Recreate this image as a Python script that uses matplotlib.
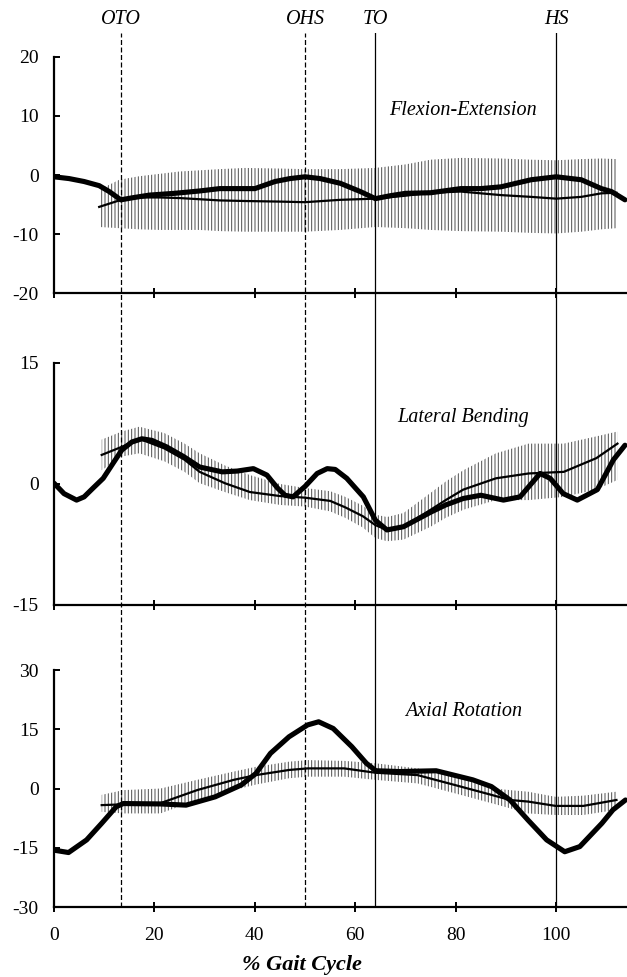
import matplotlib
matplotlib.use("Agg")
import matplotlib.pyplot as plt

plt.rcParams['font.family'] = ['Liberation Serif', 'DejaVu Serif']
plt.rcParams['axes.unicode_minus'] = False
plt.rcParams['hatch.linewidth'] = 0.7

# gait events (% gait cycle)
event_names = ['OTO', 'OHS', 'TO', 'HS']
event_x = [13.3, 50, 64, 100]
event_style = ['--', '--', '-', '-']

# Flexion-Extension: patient curve
fe_x = [0, 3, 6, 9, 11, 13.3, 16, 19, 24, 29, 33, 37, 40, 44, 47, 50, 53, 57, 61, 64,
        67, 70, 75, 81, 85, 89, 95, 100, 105, 109, 111, 113.7]
fe_y = [-0.3, -0.6, -1.1, -1.8, -2.8, -4.2, -3.8, -3.4, -3.1, -2.7, -2.3, -2.3, -2.3, -1.1,
        -0.6, -0.3, -0.6, -1.4, -2.8, -4.0, -3.5, -3.1, -3.0, -2.3, -2.3, -2.0, -0.8, -0.3,
        -0.8, -2.3, -2.8, -4.2]
# Flexion-Extension: normal mean and band
fe_nx = [9, 13, 17, 21, 25, 29, 33, 38, 45, 50, 57, 64, 70, 75, 81, 89, 95, 100, 105, 109, 112]
fe_mean = [-5.4, -4.3, -3.8, -3.8, -3.9, -4.1, -4.3, -4.4, -4.5, -4.6, -4.2, -4.0, -3.5,
           -3.0, -2.8, -3.4, -3.7, -4.0, -3.7, -3.1, -3.0]
fe_lo = [-8.8, -9.0, -9.2, -9.3, -9.3, -9.3, -9.5, -9.6, -9.6, -9.6, -9.3, -8.8, -9.0,
         -9.3, -9.5, -9.6, -9.8, -9.9, -9.6, -9.2, -9.0]
fe_hi = [-2.5, -0.8, -0.2, 0.2, 0.6, 0.8, 1.0, 1.2, 1.1, 1.0, 1.0, 1.2, 1.8, 2.6, 2.9,
         2.8, 2.6, 2.5, 2.7, 2.8, 2.7]

# Lateral Bending: patient curve
lb_x = [0, 2, 4.5, 6, 7.8, 9.8, 11.8, 13.5, 15.5, 17.5, 19.5, 22.4, 25.8, 29, 33.5, 36.5,
        39.7, 42.4, 44.5, 46, 47.6, 50, 52.4, 54.4, 56, 58.3, 61.6, 64, 66.3, 69.6, 75,
        78, 81.5, 85, 89.5, 92.8, 95, 96.8, 98.8, 101.4, 104.2, 108.2, 111.4, 113.7]
lb_y = [0.1, -1.2, -2.0, -1.6, -0.5, 0.7, 2.6, 4.2, 5.2, 5.6, 5.4, 4.6, 3.4, 2.1, 1.5, 1.6,
        1.9, 1.1, -0.5, -1.4, -1.6, -0.3, 1.3, 1.9, 1.8, 0.7, -1.6, -4.5, -5.7, -5.3, -3.5,
        -2.6, -1.8, -1.4, -2.0, -1.6, 0.0, 1.3, 0.7, -1.2, -2.0, -0.7, 3.0, 4.8]
# Lateral Bending: normal mean and band
lb_nx = [9.5, 13.5, 17, 22, 26, 29, 34, 39, 45, 50, 55, 58, 61.5, 64, 66.3, 69.6, 75, 78,
         81.5, 88, 94.5, 101.5, 108, 112.2]
lb_mean = [3.6, 4.6, 5.6, 4.4, 3.0, 1.5, 0.1, -1.0, -1.5, -1.7, -2.1, -2.9, -4.0, -5.1,
           -5.7, -5.3, -3.2, -2.0, -0.7, 0.7, 1.3, 1.5, 3.2, 5.0]
lb_lo = [1.7, 3.4, 3.8, 2.8, 1.5, 0.1, -1.0, -2.0, -2.6, -2.8, -3.4, -4.2, -5.4, -6.7,
         -7.1, -6.9, -5.3, -4.2, -3.2, -2.0, -2.0, -1.6, -0.7, 0.5]
lb_hi = [5.5, 6.5, 7.1, 6.3, 5.0, 3.8, 2.3, 1.1, 0.0, -0.5, -0.9, -1.6, -2.7, -3.8, -4.1,
         -3.6, -1.1, 0.3, 1.7, 3.8, 5.0, 5.0, 5.9, 6.5]

# Axial Rotation: patient curve
ar_x = [0, 2.9, 6.5, 9.5, 12.4, 13.8, 21.2, 26.3, 32.1, 37.3, 40.2, 43.1, 46.8, 50.5, 52.7,
        55.6, 59.3, 62.2, 64.1, 68.8, 76.1, 83.4, 87.1, 90.8, 94.4, 98.1, 101.7, 104.7,
        109.1, 111.3, 113.8]
ar_y = [-15.6, -16.2, -13.0, -8.8, -4.6, -3.8, -3.9, -4.2, -2.1, 0.9, 3.8, 8.9, 13.1, 16.1,
        16.9, 15.2, 10.6, 6.4, 4.5, 4.3, 4.5, 2.2, 0.5, -2.9, -8.0, -13.0, -16.0, -14.7,
        -8.8, -5.4, -2.9]
# Axial Rotation: normal mean and band
ar_nx = [9.5, 13.8, 21.2, 28.5, 35.8, 40.2, 46.8, 50.5, 57.8, 64, 72.4, 79.8, 87.1, 90.8,
         94.4, 99.9, 105.4, 112]
ar_mean = [-4.2, -4.0, -3.7, -0.4, 2.2, 3.4, 4.7, 5.1, 5.1, 4.0, 3.4, 0.9, -1.6, -2.9,
           -3.3, -4.4, -4.4, -2.9]
ar_lo = [-5.9, -6.3, -6.3, -2.9, -0.4, 1.0, 2.6, 3.0, 3.0, 2.2, 1.3, -1.2, -3.7, -5.0,
         -6.3, -6.7, -6.7, -5.4]
ar_hi = [-1.6, -0.4, 0.0, 2.2, 4.3, 5.5, 6.8, 7.2, 7.0, 6.4, 5.1, 3.4, 0.1, -0.4, -0.8,
         -2.1, -1.8, -0.8]

panels = [
    ('Flexion-Extension', fe_x, fe_y, fe_nx, fe_mean, fe_lo, fe_hi, [-20, -10, 0, 10, 20], 11),
    ('Lateral Bending', lb_x, lb_y, lb_nx, lb_mean, lb_lo, lb_hi, [-15, 0, 15], 8.3),
    ('Axial Rotation', ar_x, ar_y, ar_nx, ar_mean, ar_lo, ar_hi, [-30, -15, 0, 15, 30], 19.4),
]
# axes boxes in figure fractions: bottom, height
boxes = [(0.700, 0.2417), (0.3808, 0.2477), (0.0716, 0.2426)]
left = 0.0861
width = 1.0 - left
xmax = 114.1

fig = plt.figure(figsize=(6.27, 9.77), dpi=100)

for i, (name, px, py, nx, nm, lo, hi, yt, ty) in enumerate(panels):
    b, h = boxes[i]
    ax = fig.add_axes([left, b, width, h])
    ax.fill_between(nx, lo, hi, facecolor='none', edgecolor='0.3', linewidth=0,
                    hatch='|||||', zorder=1)
    ax.plot(nx, nm, color='black', linewidth=1.6, zorder=2)
    ax.plot(px, py, color='black', linewidth=3.7, solid_capstyle='round',
            solid_joinstyle='round', zorder=3)
    ax.set_xlim(0, xmax)
    ax.set_ylim(yt[0], yt[-1])
    ax.set_yticks(yt)
    ax.set_yticklabels([str(v) for v in yt])
    ax.set_xticks([0, 20, 40, 60, 80, 100])
    ax.spines['top'].set_visible(False)
    ax.spines['right'].set_visible(False)
    ax.spines['left'].set_linewidth(1.6)
    ax.spines['bottom'].set_linewidth(1.6)
    ax.tick_params(axis='y', direction='in', length=4.5, width=1.4, labelsize=14, pad=11)
    ax.tick_params(axis='x', direction='inout', length=7, width=1.4, labelsize=14, pad=11)
    if i < 2:
        ax.set_xticklabels([])
    ax.text(81.5, ty, name, fontsize=14.5, style='italic', ha='center', va='center')

# event lines spanning all panels
ov = fig.add_axes([left, 0.0716, width, 0.9662 - 0.0716])
ov.set_xlim(0, xmax)
ov.set_ylim(0, 1)
ov.axis('off')
for name, xe, ls in zip(event_names, event_x, event_style):
    if ls == '--':
        ov.axvline(xe, color='black', linewidth=0.9, linestyle=(0, (4, 2)))
    else:
        ov.axvline(xe, color='black', linewidth=0.9)
    ov.text(xe, 1.005, name, fontsize=14.5, style='italic', ha='center', va='bottom')

fig.text(302 / 627, 0.0123, '% Gait Cycle', fontsize=16, style='italic',
         fontweight='bold', ha='center', va='center')

fig.savefig('out.png', dpi=100)
